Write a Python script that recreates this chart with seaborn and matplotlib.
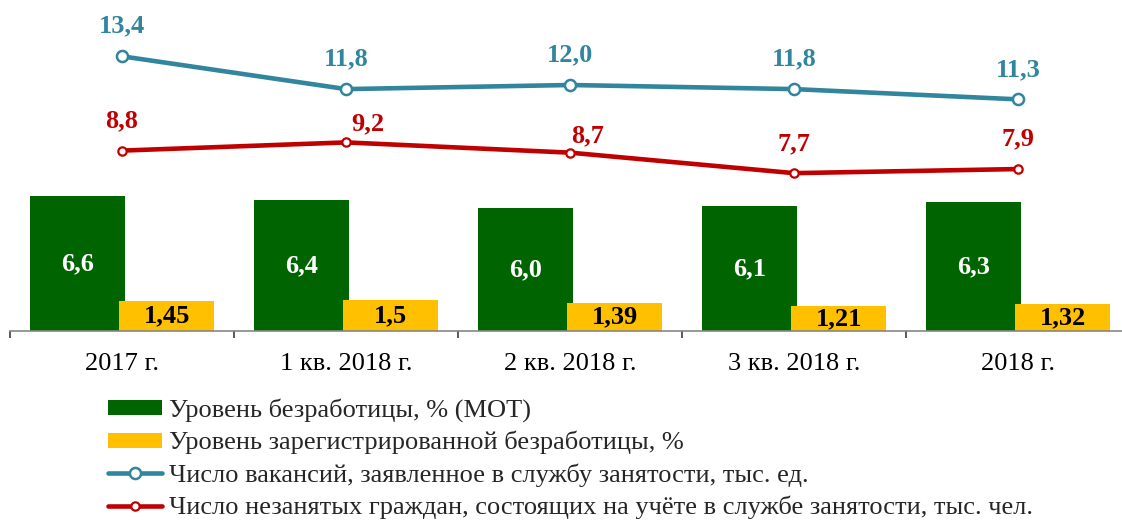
import numpy as np
import pandas as pd
import matplotlib
matplotlib.use("Agg")
import matplotlib.pyplot as plt
import seaborn as sns
from matplotlib.patches import Patch
from matplotlib.lines import Line2D

# ---- data ----
categories = ["2017 г.", "1 кв. 2018 г.", "2 кв. 2018 г.", "3 кв. 2018 г.", "2018 г."]
unemp_ilo = [6.6, 6.4, 6.0, 6.1, 6.3]
unemp_reg = [1.45, 1.5, 1.39, 1.21, 1.32]
vacancies = [13.4, 11.8, 12.0, 11.8, 11.3]
jobless_reg = [8.8, 9.2, 8.7, 7.7, 7.9]
unemp_ilo_lbl = ["6,6", "6,4", "6,0", "6,1", "6,3"]
unemp_reg_lbl = ["1,45", "1,5", "1,39", "1,21", "1,32"]
vacancies_lbl = ["13,4", "11,8", "12,0", "11,8", "11,3"]
jobless_lbl = ["8,8", "9,2", "8,7", "7,7", "7,9"]
series_names = [
    "Уровень безработицы, % (МОТ)",
    "Уровень зарегистрированной безработицы, %",
    "Число вакансий, заявленное в службу занятости, тыс. ед.",
    "Число незанятых граждан, состоящих на учёте в службе занятости, тыс. чел.",
]

# label offsets for red series (pixels)
red_off = [(0, 30), (22, 19), (18, 17), (0, 29), (0, 30)]

GREEN = "#006400"
YELLOW = "#FFC000"
BLUE = "#31859C"
RED = "#C00000"
FS = 19

sns.set_theme(style="white")
plt.rcParams["font.family"] = ["Liberation Serif", "DejaVu Serif"]

fig = plt.figure(figsize=(11.22, 5.23), dpi=100)
ax = fig.add_axes([10 / 1122, 1 - 331 / 523, 1120 / 1122, 328 / 523])

df = pd.DataFrame({
    "cat": categories * 2,
    "val": unemp_ilo + unemp_reg,
    "series": [series_names[0]] * 5 + [series_names[1]] * 5,
})
sns.barplot(data=df, x="cat", y="val", hue="series", order=categories,
            hue_order=series_names[:2], palette=[GREEN, YELLOW],
            width=0.8, gap=-0.06, ax=ax, legend=False, saturation=1,
            linewidth=0)

xs = np.arange(len(categories))
sns.lineplot(x=xs, y=vacancies, ax=ax, color=BLUE, linewidth=3.3,
             marker="o", markersize=8, markerfacecolor="white",
             markeredgecolor=BLUE, markeredgewidth=1.8, legend=False)
sns.lineplot(x=xs, y=jobless_reg, ax=ax, color=RED, linewidth=3.3,
             marker="o", markersize=6, markerfacecolor="white",
             markeredgecolor=RED, markeredgewidth=1.6, legend=False)

ax.set_xlim(-0.5, 4.5)
ax.set_ylim(0, 16)

# labels
bars = ax.patches
for i in range(5):
    g = bars[i]
    y_ = bars[i + 5]
    ax.text(g.get_x() + g.get_width() / 2, unemp_ilo[i] / 2, unemp_ilo_lbl[i],
            ha="center", va="center", color="white", fontsize=FS, fontweight="bold")
    ax.text(y_.get_x() + y_.get_width() / 2, unemp_reg[i] / 2, unemp_reg_lbl[i],
            ha="center", va="center", color="black", fontsize=FS, fontweight="bold")
    ax.annotate(vacancies_lbl[i], (xs[i], vacancies[i]), xytext=(0, 30 / 1.389),
                textcoords="offset points", ha="center", va="center",
                color=BLUE, fontsize=FS, fontweight="bold")
    dx, dy = red_off[i]
    ax.annotate(jobless_lbl[i], (xs[i], jobless_reg[i]),
                xytext=(dx / 1.389, dy / 1.389), textcoords="offset points",
                ha="center", va="center", color=RED, fontsize=FS, fontweight="bold")

# axes styling
for s in ["left", "top", "right"]:
    ax.spines[s].set_visible(False)
ax.spines["bottom"].set_color("#868686")
ax.spines["bottom"].set_linewidth(1.2)
ax.set_yticks([])
ax.set_xlabel("")
ax.set_ylabel("")
ax.set_xticks(xs)
ax.set_xticklabels(categories)
ax.tick_params(axis="x", which="major", bottom=True, length=0, pad=16,
               labelsize=FS, colors="black")
ax.set_xticks(np.arange(-0.5, 5, 1.0), minor=True)
ax.tick_params(axis="x", which="minor", bottom=True, length=5, width=1.2,
               color="#404040", direction="out")
ax.grid(False)

handles = [
    Patch(facecolor=GREEN, edgecolor="none"),
    Patch(facecolor=YELLOW, edgecolor="none"),
    Line2D([0], [0], color=BLUE, lw=3.3, marker="o", markersize=8,
           markerfacecolor="white", markeredgecolor=BLUE, markeredgewidth=1.8),
    Line2D([0], [0], color=RED, lw=3.3, marker="o", markersize=6,
           markerfacecolor="white", markeredgecolor=RED, markeredgewidth=1.6),
]
fig.legend(handles, series_names, loc="upper left",
           bbox_to_anchor=(108 / 1122, 1 - 398 / 523), frameon=False,
           fontsize=FS, handlelength=2.05, handleheight=0.5, handletextpad=0.25,
           labelspacing=0.34, borderaxespad=0, borderpad=0)

fig.savefig("out.png", dpi=100)
